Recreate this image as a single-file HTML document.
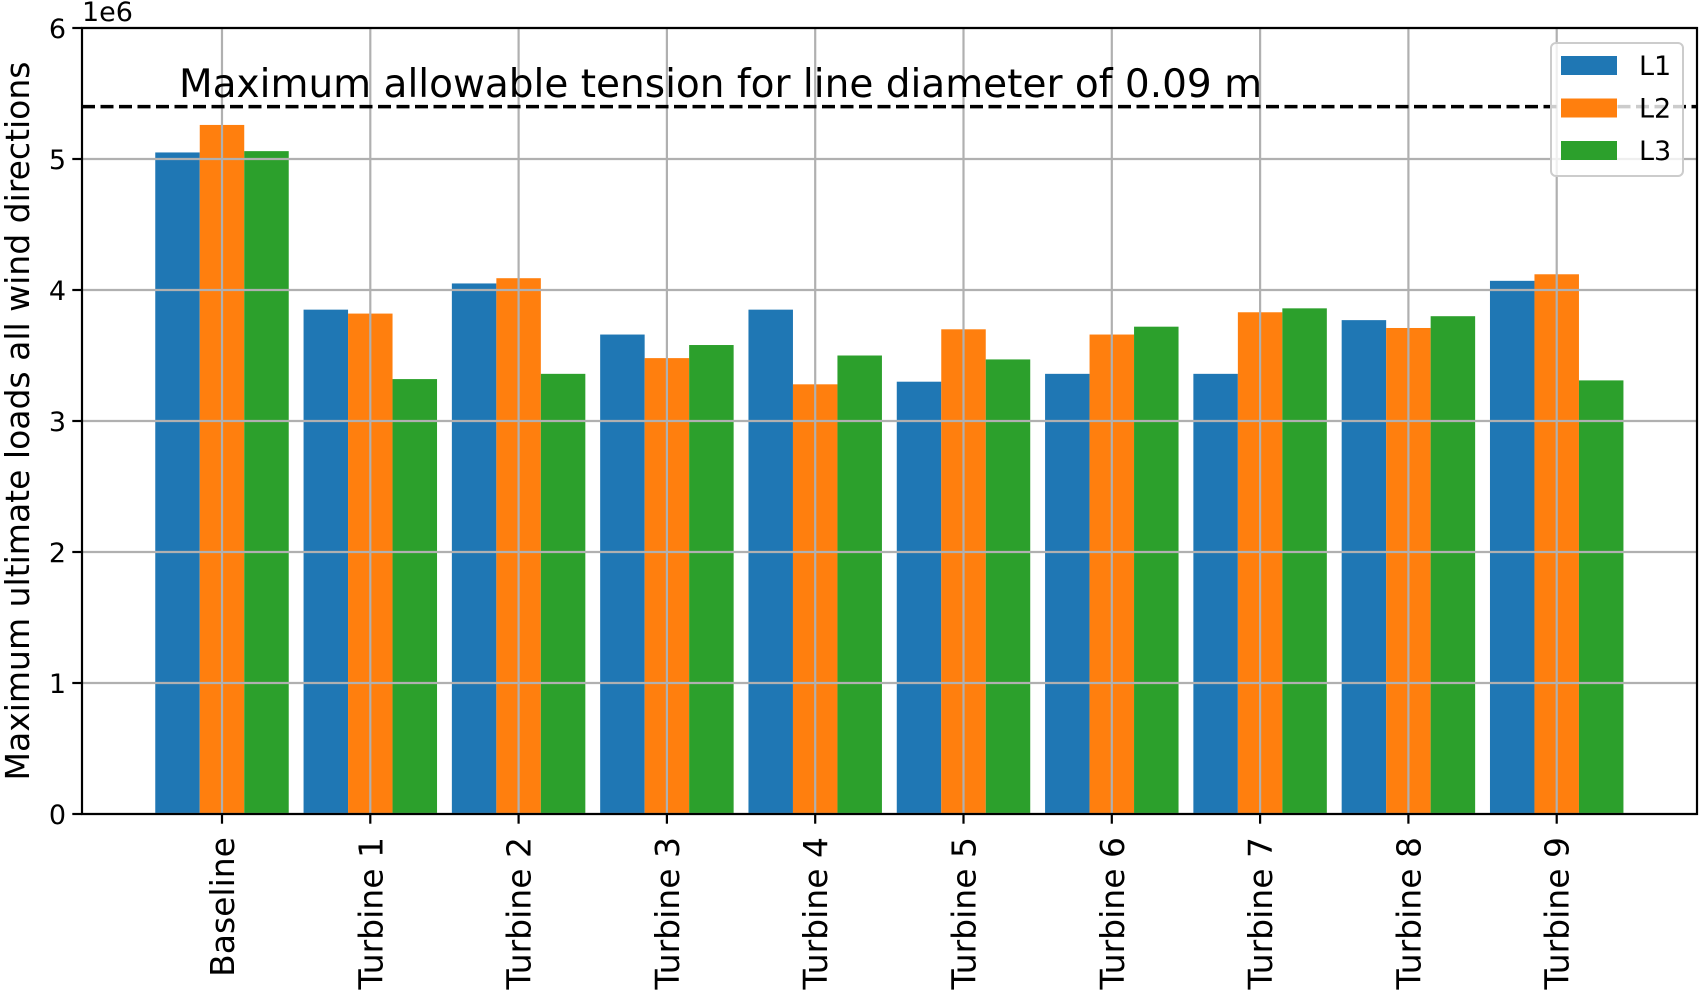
<!DOCTYPE html>
<html><head><meta charset="utf-8"><style>
body{margin:0;background:#fff}
svg{display:block;font-family:"DejaVu Sans","Liberation Sans",sans-serif}
</style></head><body>
<svg id="chart" width="1699" height="991" viewBox="0 0 1699 991">
<g id="grid"></g>
<g id="bars"></g>
<g id="axes"></g>
</svg>
<script>
const categories=["Baseline","Turbine 1","Turbine 2","Turbine 3","Turbine 4","Turbine 5","Turbine 6","Turbine 7","Turbine 8","Turbine 9"];
const seriesNames=["L1","L2","L3"];
const L1=[5.05,3.85,4.05,3.66,3.85,3.30,3.36,3.36,3.77,4.07];
const L2=[5.26,3.82,4.09,3.48,3.28,3.70,3.66,3.83,3.71,4.12];
const L3=[5.06,3.32,3.36,3.58,3.50,3.47,3.72,3.86,3.80,3.31];
const yTicks=[0,1,2,3,4,5,6];
const limitValue=5.4;
const colors=["#1f77b4","#ff7f0e","#2ca02c"];
const NS="http://www.w3.org/2000/svg";
const L=82,R=1697,T=28,B=814;
const xMin=-0.944,xMax=9.946;
function xs(v){return L+(v-xMin)/(xMax-xMin)*(R-L);}
function ys(v){return B-(v/6)*(B-T);}
function mk(tag,attrs,parent,text){const e=document.createElementNS(NS,tag);for(const k in attrs)e.setAttribute(k,attrs[k]);if(text!==undefined)e.textContent=text;parent.appendChild(e);return e;}
const grid=document.getElementById('grid'),bars=document.getElementById('bars'),axes=document.getElementById('axes');
yTicks.forEach(t=>{const l=mk('line',{x1:L,x2:R,y1:ys(t),y2:ys(t),stroke:'#b0b0b0','stroke-width':2.2},grid);

});
categories.forEach((c,i)=>{const l=mk('line',{x1:xs(i),x2:xs(i),y1:T,y2:B,stroke:'#b0b0b0','stroke-width':2.2},grid);

});
const series=[L1,L2,L3];const w=0.3;
series.forEach((s,si)=>{s.forEach((v,i)=>{const x0=xs(i+(si-1)*w-w/2),x1=xs(i+(si-1)*w+w/2);
const r=mk('rect',{x:x0,y:ys(v),width:x1-x0,height:ys(0)-ys(v),fill:colors[si]},bars);

});});
grid.parentNode.insertBefore(bars,grid);
const dl=mk('line',{x1:L,x2:R,y1:ys(limitValue),y2:ys(limitValue),stroke:'#000','stroke-width':3.5,'stroke-dasharray':'13 5.5'},axes);


const at=mk('text',{x:179,y:97,'font-size':39},axes,'Maximum allowable tension for line diameter of 0.09 m');


const sp=mk('rect',{x:L,y:T,width:R-L,height:B-T,fill:'none',stroke:'#000','stroke-width':2.2},axes);


yTicks.forEach(t=>{mk('line',{x1:L-9.7,x2:L,y1:ys(t),y2:ys(t),stroke:'#000','stroke-width':2.2},axes);
const tx=mk('text',{x:L-16,y:ys(t)+10,'font-size':27,'text-anchor':'end'},axes,String(t));

});
const ex=mk('text',{x:L,y:21,'font-size':27},axes,'1e6');


categories.forEach((c,i)=>{mk('line',{x1:xs(i),x2:xs(i),y1:B,y2:B+9.7,stroke:'#000','stroke-width':2.2},axes);
const tx=mk('text',{x:0,y:0,'font-size':33,'text-anchor':'end',transform:'translate('+(xs(i)+12)+',837) rotate(-90)'},axes,c);

});
const yl=mk('text',{x:0,y:0,'font-size':33,'text-anchor':'middle',transform:'translate(29,421) rotate(-90)'},axes,'Maximum ultimate loads all wind directions');


const lg=mk('g',{},axes);


mk('rect',{x:1551,y:43,width:132,height:133,rx:5,fill:'#fff','fill-opacity':0.8,stroke:'#ccc','stroke-width':2},lg);
seriesNames.forEach((n,i)=>{const y=65+i*42.5;
const p=mk('rect',{x:1561,y:y-9,width:56,height:19,fill:colors[i]},lg);


const t=mk('text',{x:1639,y:y+10,'font-size':27},lg,n);

});
</script>
</body></html>
